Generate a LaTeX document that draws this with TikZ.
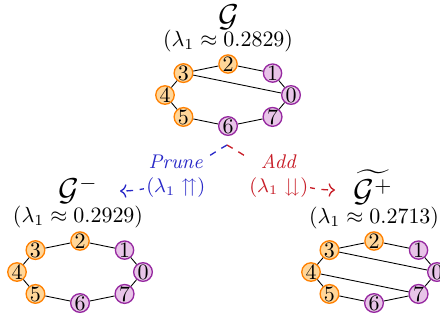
\documentclass[tikz,border=0pt]{standalone}
\usepackage{amsmath}
\usepackage{amssymb}
\usepackage{tikz}
\usetikzlibrary{arrows.meta,calc}
\definecolor{pruneblue}{RGB}{40,40,200}
\definecolor{addred}{RGB}{200,30,40}
\definecolor{ofill}{RGB}{255,214,153}
\definecolor{pfill}{RGB}{232,196,232}
\definecolor{pdraw}{RGB}{150,40,160}

\tikzset{
  onode/.style={circle, draw=orange, fill=ofill, line width=0.6pt, minimum size=8.3pt, inner sep=0pt, font=\normalsize},
  pnode/.style={circle, draw=pdraw, fill=pfill, line width=0.6pt, minimum size=8.3pt, inner sep=0pt, font=\normalsize},
  title/.style={font=\Large, inner sep=1pt},
  eig/.style={font=\normalsize},
  move/.style={->, dashed, line width=0.6pt},
}

\begin{document}
\begin{tikzpicture}[x=0.016cm, y=0.016cm, >=To]
    \useasboundingbox (0,0) rectangle (440,-322);

    % Original graph
    \node[title] (tG) at (229,-17) {$\mathcal{G}$};
    \node[eig] (tL) at (228,-41) {$(\lambda_1 \approx 0.2829)$};
    \foreach \i/\s in {0/pnode,1/pnode,2/onode,3/onode,4/onode,5/onode,6/pnode,7/pnode} {
        \node[\s] (t\i) at ($(228,-95)+(\i*45:63 and 31)$) {\i};
    }
    \foreach \a/\b in {0/1,1/2,2/3,3/4,4/5,5/6,6/7,7/0,3/0} {
        \draw (t\a) -- (t\b);
    }

    % Pruned graph
    \node[title] (mG) at (78,-190) {$\mathcal{G}^{-}$};
    \node[eig] (mL) at (78,-217) {$(\lambda_1 \approx 0.2929)$};
    \foreach \i/\s in {0/pnode,1/pnode,2/onode,3/onode,4/onode,5/onode,6/pnode,7/pnode} {
        \node[\s] (m\i) at ($(80,-272)+(\i*45:63 and 31)$) {\i};
    }
    \foreach \a/\b in {0/1,1/2,2/3,3/4,4/5,5/6,6/7,7/0} {
        \draw (m\a) -- (m\b);
    }

    % Graph with added edges
    \node[title] (pG) at (373,-187) {$\widetilde{\mathcal{G}^{+}}$};
    \node[eig] (pL) at (374,-218) {$(\lambda_1 \approx 0.2713)$};
    \foreach \i/\s in {0/pnode,1/pnode,2/onode,3/onode,4/onode,5/onode,6/pnode,7/pnode} {
        \node[\s] (p\i) at ($(374,-272)+(\i*45:63 and 31)$) {\i};
    }
    \foreach \a/\b in {0/1,1/2,2/3,3/4,4/5,5/6,6/7,7/0,3/0,4/7} {
        \draw (p\a) -- (p\b);
    }

    % Prune / add arrows
    \coordinate (split) at (227,-145);
    \coordinate (mEnd) at (120,-191);
    \coordinate (pEnd) at (335,-190);
    \draw[move, pruneblue] (split) to[out=210, in=0]
        node[fill=white, align=center, font=\small, inner sep=1pt] {\textit{Prune}\\$(\lambda_1 \upuparrows)$} (mEnd);
    \draw[move, addred] (split) to[out=-30, in=180]
        node[fill=white, align=center, font=\small, inner sep=1pt] {\textit{Add}\\$(\lambda_1 \downdownarrows)$} (pEnd);
\end{tikzpicture}
\end{document}
